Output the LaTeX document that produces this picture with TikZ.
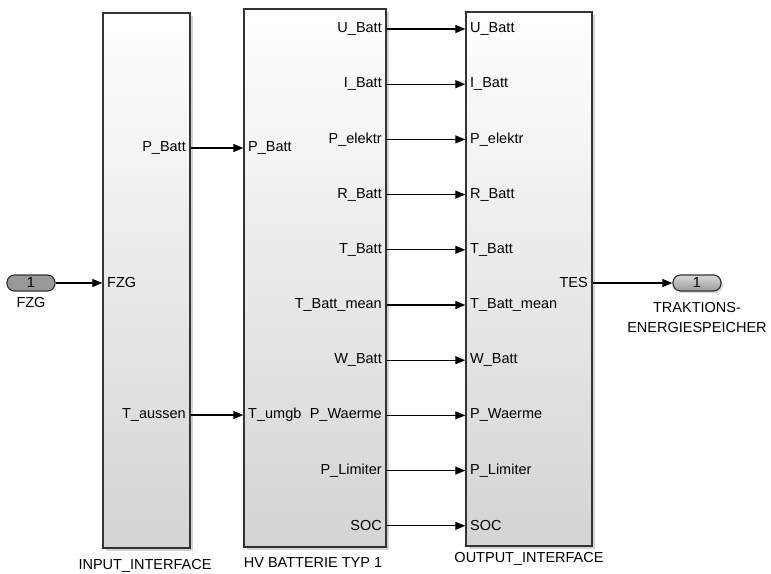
\documentclass[tikz,border=0pt]{standalone}
\usepackage{fontspec}
\setmainfont{Liberation Sans}
\usetikzlibrary{arrows.meta,shadows}

\begin{document}
\begin{tikzpicture}[x=1pt,y=-1pt,
    font=\fontsize{14.5}{16}\selectfont,
    subsystem/.style ={draw=black!80, line width=1.4pt, top color=white, bottom color=black!17,
                       drop shadow={shadow xshift=2.5pt, shadow yshift=-2.5pt, opacity=0.35}},
    portin/.style ={inner sep=0pt, anchor=west},
    portout/.style ={inner sep=0pt, anchor=east},
    signal/.style ={line width=1.1pt, -{Triangle[length=10pt,width=8pt]}},
    extport/.style ={rounded corners=7.5pt, draw=black!80, line width=1.2pt,
                     minimum width=48pt, minimum height=16pt, inner sep=0pt}]
   \useasboundingbox (0,0) rectangle (771,573);

   % subsystems
   \node[subsystem, minimum width=87pt, minimum height=535pt] (inp) at (146.5,280.5) {};
   \node[subsystem, minimum width=142pt, minimum height=538pt] (hv) at (315,278) {};
   \node[subsystem, minimum width=126pt, minimum height=534pt] (out) at (529,279) {};

   \node (inplabel) at (145,566) {INPUT\_INTERFACE};
   \node (hvlabel) at (313,563) {HV BATTERIE TYP 1};
   \node (outlabel) at (529,559) {OUTPUT\_INTERFACE};

   % external ports
   \node[extport, fill=black!40] (fzg) at (31,283) {1};
   \node (fzglabel) at (31,303) {FZG};
   \node[extport, top color=black!15, bottom color=black!40,
         drop shadow={shadow xshift=2pt, shadow yshift=-2pt, opacity=0.3}] (tes) at (697,283) {1};
   \node[align=center, font=\fontsize{14.5}{20}\selectfont] (teslabel) at (697,318) {TRAKTIONS-\\ENERGIESPEICHER};

   % input interface
   \node[portin] (inpFZG) at (107,283) {FZG};
   \node[portout] (inpP) at (186,148) {P\_Batt};
   \node[portout] (inpT) at (186,415) {T\_aussen};

   % hv batterie
   \node[portin] (hvP) at (248,148) {P\_Batt};
   \node[portin] (hvT) at (248,415) {T\_umgb};
   \node[portout] (hvU) at (382,29) {U\_Batt};
   \node[portout] (hvI) at (382,84.2) {I\_Batt};
   \node[portout] (hvPel) at (382,139.4) {P\_elektr};
   \node[portout] (hvR) at (382,194.6) {R\_Batt};
   \node[portout] (hvTB) at (382,249.8) {T\_Batt};
   \node[portout] (hvTm) at (382,305) {T\_Batt\_mean};
   \node[portout] (hvW) at (382,360.2) {W\_Batt};
   \node[portout] (hvPW) at (382,415.4) {P\_Waerme};
   \node[portout] (hvPL) at (382,470.6) {P\_Limiter};
   \node[portout] (hvS) at (382,525.8) {SOC};

   % output interface
   \node[portin] (outU) at (470,29) {U\_Batt};
   \node[portin] (outI) at (470,84.2) {I\_Batt};
   \node[portin] (outPel) at (470,139.4) {P\_elektr};
   \node[portin] (outR) at (470,194.6) {R\_Batt};
   \node[portin] (outTB) at (470,249.8) {T\_Batt};
   \node[portin] (outTm) at (470,305) {T\_Batt\_mean};
   \node[portin] (outW) at (470,360.2) {W\_Batt};
   \node[portin] (outPW) at (470,415.4) {P\_Waerme};
   \node[portin] (outPL) at (470,470.6) {P\_Limiter};
   \node[portin] (outS) at (470,525.8) {SOC};
   \node[portout] (outTES) at (588,283) {TES};

   % signals
   \draw[signal] (fzg.east) -- (inpFZG -| inp.west);
   \draw[signal] (inpP -| inp.east) -- (hvP -| hv.west);
   \draw[signal] (inpT -| inp.east) -- (hvT -| hv.west);
   \draw[signal] (hvU -| hv.east) -- (outU -| out.west);
   \draw[signal] (hvI -| hv.east) -- (outI -| out.west);
   \draw[signal] (hvPel -| hv.east) -- (outPel -| out.west);
   \draw[signal] (hvR -| hv.east) -- (outR -| out.west);
   \draw[signal] (hvTB -| hv.east) -- (outTB -| out.west);
   \draw[signal] (hvTm -| hv.east) -- (outTm -| out.west);
   \draw[signal] (hvW -| hv.east) -- (outW -| out.west);
   \draw[signal] (hvPW -| hv.east) -- (outPW -| out.west);
   \draw[signal] (hvPL -| hv.east) -- (outPL -| out.west);
   \draw[signal] (hvS -| hv.east) -- (outS -| out.west);
   \draw[signal] (outTES -| out.east) -- (tes.west);
\end{tikzpicture}
\end{document}
